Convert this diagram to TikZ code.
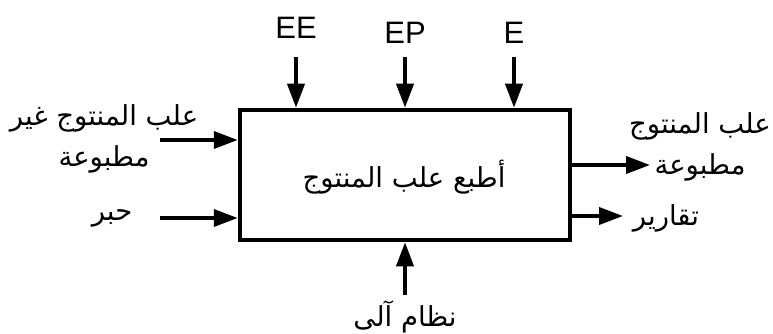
\documentclass[tikz,border=0pt]{standalone}
\usepackage{fontspec}
\setmainfont{Liberation Sans}
\newfontfamily\arabicfont[Script=Arabic]{DejaVu Sans}
\TeXXeTstate=1
\usetikzlibrary{arrows.meta}
\tikzstyle{process}=[draw, line width=4.5pt, minimum width=330pt, minimum height=130pt, inner sep=0pt]
\tikzstyle{flow}=[line width=3.8pt, -{Triangle[length=24pt,width=17pt]}]
\tikzstyle{arlabel}=[font=\arabicfont\fontsize{27.5}{41}\selectfont, align=center, inner sep=0pt]
\tikzstyle{ctrl}=[font=\fontsize{31}{36}\selectfont, inner sep=0pt]
\newcommand{\artext}[1]{\beginR #1\endR}

\begin{document}
\begin{tikzpicture}[x=1pt,y=-1pt]
	\useasboundingbox (0,0) rectangle (773,334);
	%% the activity box
	\node[process] (box) at (405,175) {};
	\node[arlabel] (task) at (404,177) {\artext{أطبع علب المنتوج}};
	%% controls on top
	\node[ctrl] (ee) at (296,28) {EE};
	\node[ctrl] (ep) at (405,33) {EP};
	\node[ctrl] (e) at (514,33) {E};
	\coordinate (cee) at (296,57);
	\coordinate (cep) at (405,57);
	\coordinate (ce) at (514,57);
	%% inputs on the left
	\node[arlabel] (boxin) at (104,139) {\artext{علب المنتوج غير}\\\artext{مطبوعة}};
	\node[arlabel] (ink) at (112,218) {\artext{حبر}};
	\coordinate (in1) at (160,140);
	\coordinate (in2) at (160,218);
	%% outputs on the right
	\node[arlabel] (boxout) at (700,147) {\artext{علب المنتوج}\\\artext{مطبوعة}};
	\node[arlabel] (reports) at (666,218) {\artext{تقارير}};
	\coordinate (out1) at (650,165);
	\coordinate (out2) at (623,216);
	%% mechanism below
	\node[arlabel] (mech) at (405,317) {\artext{نظام آلى}};
	\coordinate (cm) at (405,295);
	%% for the arrows
	\path[flow]
		(cee) edge (cee |- box.north)
		(cep) edge (cep |- box.north)
		(ce) edge (ce |- box.north)
		(in1) edge (in1 -| box.west)
		(in2) edge (in2 -| box.west)
		(out1 -| box.east) edge (out1)
		(out2 -| box.east) edge (out2)
		(cm) edge (box.south)
		;

\end{tikzpicture}
\end{document}
